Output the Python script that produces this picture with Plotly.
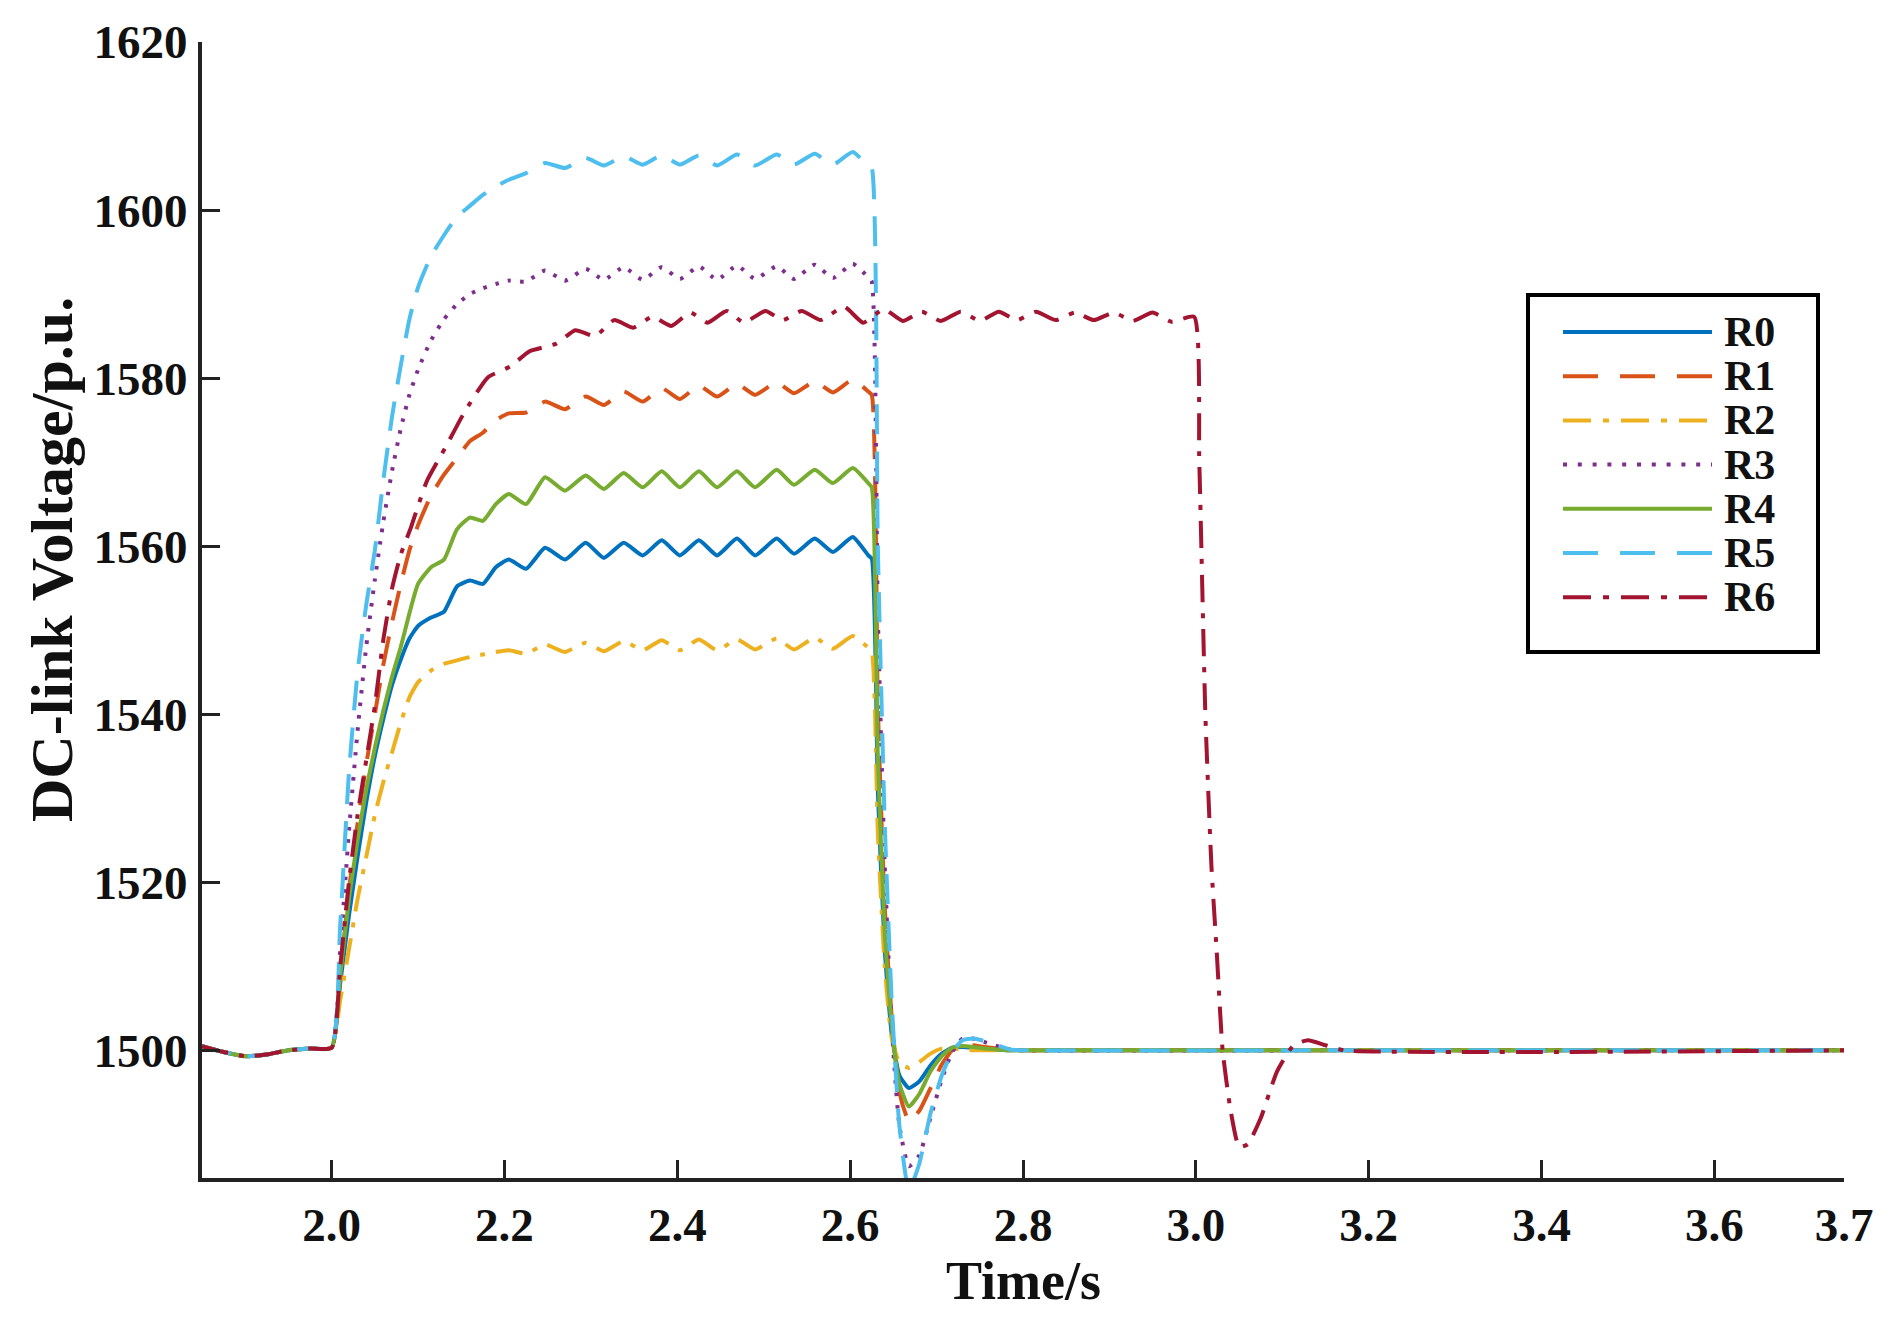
import plotly.graph_objects as go

# ---------------- data ----------------
series_names = ["R0", "R1", "R2", "R3", "R4", "R5", "R6"]
series_colors = ["#0072BD", "#D95319", "#EDB120", "#7E2F8E", "#77AC30", "#4DBEEE", "#A2142F"]

# shared time base for R0..R5 (s)
t_common = [
    1.85, 1.875, 1.90, 1.925, 1.95, 1.975, 2.0,
    2.01, 2.02, 2.03, 2.04, 2.05, 2.06, 2.07, 2.08, 2.09, 2.10, 2.115, 2.13, 2.145, 2.16, 2.175, 2.19, 2.205,
    2.225, 2.247, 2.27, 2.294, 2.315, 2.338, 2.36, 2.382, 2.403, 2.425, 2.446, 2.469, 2.49, 2.515, 2.535,
    2.559, 2.58, 2.603, 2.621,
    2.625, 2.632, 2.64, 2.648, 2.657, 2.668, 2.68, 2.693, 2.706, 2.718, 2.73, 2.742, 2.755, 2.77, 2.785, 2.8,
    3.2, 3.75,
]

v_R0 = [
    1500.5, 1499.8, 1499.3, 1499.5, 1500.0, 1500.2, 1500.3,
    1508, 1516, 1523, 1529.5, 1535, 1539.5, 1543.5, 1546.5, 1549, 1550.5, 1551.5, 1552.2, 1555.2, 1555.9, 1555.5, 1557.5, 1558.4,
    1557.3, 1559.8, 1558.4, 1560.4, 1558.6, 1560.4, 1558.9, 1560.7, 1558.9, 1560.7, 1558.9, 1560.9, 1558.9, 1560.9, 1559.1,
    1560.9, 1559.3, 1561.1, 1558.9,
    1558.5, 1531, 1512, 1502, 1497, 1495.5, 1496.3, 1498.2, 1499.6, 1500.3, 1500.4, 1500.3, 1500.2, 1500.1, 1500.0, 1500.0,
    1500.0, 1500.0,
]
v_R1 = [
    1500.5, 1499.8, 1499.3, 1499.5, 1500.0, 1500.2, 1500.3,
    1509, 1519, 1527, 1534, 1540, 1546, 1551, 1555.5, 1559.5, 1562.5, 1566, 1568.5, 1570.5, 1572.5, 1573.5, 1575, 1575.8,
    1575.9, 1577.2, 1576.3, 1577.8, 1576.8, 1578.4, 1577.2, 1578.8, 1577.5, 1579.1, 1577.8, 1579.3, 1578.0, 1579.5, 1578.2,
    1579.6, 1578.3, 1579.8, 1578.4,
    1578, 1541, 1517, 1504, 1495, 1491.6, 1492.8, 1495.5, 1498.3, 1500.0, 1500.6, 1500.6, 1500.4, 1500.2, 1500.0, 1500.0,
    1500.0, 1500.0,
]
v_R2 = [
    1500.5, 1499.8, 1499.3, 1499.5, 1500.0, 1500.2, 1500.3,
    1506, 1512, 1518, 1523, 1528, 1532, 1535.5, 1539, 1542, 1543.8, 1545.2, 1546, 1546.4, 1546.8, 1547.1, 1547.4, 1547.6,
    1547.2, 1548.3, 1547.4, 1548.5, 1547.5, 1548.7, 1547.6, 1548.8, 1547.6, 1548.9, 1547.6, 1548.9, 1547.7, 1549.0, 1547.7,
    1549.1, 1547.8, 1549.3, 1547.9,
    1547.5, 1526, 1510, 1501.5, 1498.5, 1497.9, 1498.6, 1499.6, 1500.2, 1500.2, 1500.1, 1500.0, 1500.0, 1500.0, 1500.0, 1500.0,
    1500.0, 1500.0,
]
v_R3 = [
    1500.5, 1499.8, 1499.3, 1499.5, 1500.0, 1500.2, 1500.3,
    1512, 1526, 1538, 1548, 1556, 1563, 1569, 1574, 1578, 1581, 1584.5, 1587, 1588.8, 1590, 1590.7, 1591.2, 1591.6,
    1591.5, 1592.8, 1591.6, 1593.0, 1591.7, 1593.2, 1591.7, 1593.2, 1591.8, 1593.3, 1591.7, 1593.4, 1591.8, 1593.3, 1591.8,
    1593.5, 1591.9, 1593.6, 1592.0,
    1591.5, 1552, 1522, 1503, 1491, 1486.2, 1487.5, 1492, 1496.5, 1499.8, 1501.4, 1501.4, 1501.0, 1500.5, 1500.1, 1500.0,
    1500.0, 1500.0,
]
v_R4 = [
    1500.5, 1499.8, 1499.3, 1499.5, 1500.0, 1500.2, 1500.3,
    1509, 1518, 1525, 1531, 1536, 1540.5, 1544.5, 1548, 1552, 1555.5, 1557.5, 1558.4, 1562, 1563.4, 1563, 1565, 1566.2,
    1565.0, 1568.2, 1566.6, 1568.4, 1566.8, 1568.7, 1567.0, 1568.9, 1567.0, 1568.9, 1567.0, 1568.9, 1567.0, 1569.1, 1567.3,
    1569.1, 1567.5, 1569.3, 1567.5,
    1567, 1535, 1514, 1503, 1496, 1493.3, 1494.8, 1497.5, 1499.3, 1500.3, 1500.5, 1500.4, 1500.2, 1500.1, 1500.0, 1500.0,
    1500.0, 1500.0,
]
v_R5 = [
    1500.5, 1499.8, 1499.3, 1499.5, 1500.0, 1500.2, 1500.3,
    1515, 1533, 1545, 1553, 1559.5, 1568, 1575.5, 1581.5, 1587, 1590.8, 1594.5, 1597, 1599.2, 1600.5, 1601.8, 1602.8, 1603.6,
    1604.4, 1605.6, 1605.0, 1606.2, 1605.3, 1606.4, 1605.4, 1606.5, 1605.4, 1606.5, 1605.3, 1606.6, 1605.3, 1606.6, 1605.4,
    1606.7, 1605.4, 1606.9, 1605.2,
    1605.0, 1560, 1527, 1506, 1491, 1483.3, 1486.5, 1492.5, 1497, 1499.8, 1501.2, 1501.4, 1501.1, 1500.6, 1500.1, 1500.0,
    1500.0, 1500.0,
]

# R6 has its own time base (stays high until 3.0 s)
t_R6 = [
    1.85, 1.875, 1.90, 1.925, 1.95, 1.975, 2.0,
    2.01, 2.02, 2.03, 2.04, 2.05, 2.06, 2.07, 2.08, 2.092, 2.11, 2.132, 2.154, 2.181, 2.207, 2.229, 2.26,
    2.282, 2.305, 2.327, 2.349, 2.371, 2.393, 2.415, 2.435, 2.457, 2.477, 2.502, 2.522, 2.544, 2.566, 2.593, 2.615,
    2.639, 2.661, 2.683, 2.705, 2.728, 2.75, 2.772, 2.793, 2.815, 2.838, 2.86, 2.882, 2.905, 2.927, 2.95, 2.972, 2.998,
    3.004, 3.011, 3.018, 3.024, 3.031, 3.04, 3.05, 3.06, 3.075, 3.094, 3.113, 3.13, 3.15, 3.172, 3.75,
]
v_R6 = [
    1500.5, 1499.8, 1499.3, 1499.5, 1500.0, 1500.2, 1500.3,
    1510, 1520, 1528, 1534.5, 1541, 1549, 1555, 1559, 1562.3, 1567.7, 1571.8, 1576, 1580.1, 1581.4, 1583.2, 1584.1,
    1585.7, 1585.0, 1586.9, 1586.0, 1587.3, 1586.2, 1587.8, 1586.6, 1588.0, 1586.6, 1588.0, 1586.9, 1588.0, 1586.9, 1588.5, 1586.6,
    1588.2, 1586.8, 1587.9, 1586.8, 1587.9, 1586.8, 1587.9, 1586.9, 1587.9, 1586.9, 1587.8, 1586.9, 1587.8, 1586.8, 1587.8, 1586.7, 1587.3,
    1570, 1540, 1522, 1512, 1500, 1493, 1488.5, 1488.8, 1491.9, 1497.5, 1500.6, 1501.2, 1500.6, 1500.0, 1500.0,
]

x_tick_vals = [2.0, 2.2, 2.4, 2.6, 2.8, 3.0, 3.2, 3.4, 3.6, 3.75]
x_tick_text = ["2.0", "2.2", "2.4", "2.6", "2.8", "3.0", "3.2", "3.4", "3.6", "3.7"]
y_tick_vals = [1500, 1520, 1540, 1560, 1580, 1600, 1620]
x_range = [1.85, 3.75]
y_range = [1484.8, 1620]

# ---------------- styles ----------------
trace_dash = ["solid", "30px,17px", "27px,11px,5px,11px", "3.5px,9px", "solid", "30px,17px", "27px,11px,5px,11px"]
legend_dash = ["solid", "35px,22px", "28px,12px,6px,12px", "4px,10.8px", "solid", "35px,22px", "28px,12px,6px,12px"]

FONT = "Liberation Serif, Times New Roman, serif"

times = [t_common, t_common, t_common, t_common, t_common, t_common, t_R6]
values = [v_R0, v_R1, v_R2, v_R3, v_R4, v_R5, v_R6]

fig = go.Figure()
for name, col, dsh, tt, vv in zip(series_names, series_colors, trace_dash, times, values):
    fig.add_trace(go.Scatter(
        x=tt, y=vv, mode="lines", name=name, showlegend=False,
        line=dict(color=col, width=4, dash=dsh, shape="spline", smoothing=0.5),
    ))

# ---------------- custom legend (long line samples, boxed) ----------------
W, H = 1890, 1334
ml, mr, mt, mb = 202, 46, 42, 156
pw, ph = W - ml - mr, H - mt - mb

def px2paper_x(px):
    return (px - ml) / pw

def px2paper_y(py):
    return (H - mb - py) / ph

shapes = [dict(type="rect", xref="paper", yref="paper",
               x0=px2paper_x(1528), x1=px2paper_x(1818),
               y0=px2paper_y(652), y1=px2paper_y(295),
               line=dict(color="black", width=4), fillcolor="white", layer="above")]
annotations = []
for i, (name, col, dsh) in enumerate(zip(series_names, series_colors, legend_dash)):
    yy = px2paper_y(332 + 44.2 * i)
    shapes.append(dict(type="line", xref="paper", yref="paper",
                       x0=px2paper_x(1563), x1=px2paper_x(1712), y0=yy, y1=yy,
                       line=dict(color=col, width=4, dash=dsh), layer="above"))
    annotations.append(dict(xref="paper", yref="paper", x=px2paper_x(1722), y=yy,
                            xanchor="left", yanchor="middle", showarrow=False, text=name,
                            font=dict(family=FONT, size=42, color="#111111", weight="bold")))

# axis titles
annotations.append(dict(xref="paper", yref="paper", x=0.5, y=px2paper_y(1281),
                        xanchor="center", yanchor="middle", showarrow=False, text="Time/s",
                        font=dict(family=FONT, size=54, color="#111111", weight="bold")))
annotations.append(dict(xref="paper", yref="paper", x=px2paper_x(52), y=px2paper_y(560),
                        xanchor="center", yanchor="middle", showarrow=False, textangle=-90,
                        text="DC-link Voltage/p.u.",
                        font=dict(family=FONT, size=60, color="#111111", weight="bold")))

fig.update_layout(
    width=W, height=H,
    margin=dict(l=ml, r=mr, t=mt, b=mb),
    paper_bgcolor="white", plot_bgcolor="white",
    shapes=shapes, annotations=annotations,
    showlegend=False,
)
fig.update_xaxes(
    range=x_range, tickvals=x_tick_vals, ticktext=x_tick_text,
    ticks="inside", ticklen=18, tickwidth=3, tickcolor="#222222",
    showline=True, linewidth=4, linecolor="#222222", mirror=False,
    showgrid=False, zeroline=False, ticklabelstandoff=3,
    tickfont=dict(family=FONT, size=47, color="#111111", weight="bold"),
)
fig.update_yaxes(
    range=y_range, tickvals=y_tick_vals,
    ticks="inside", ticklen=18, tickwidth=3, tickcolor="#222222",
    showline=True, linewidth=4, linecolor="#222222", mirror=False,
    showgrid=False, zeroline=False, ticklabelstandoff=1,
    tickfont=dict(family=FONT, size=47, color="#111111", weight="bold"),
)

fig.write_html("out.html")
